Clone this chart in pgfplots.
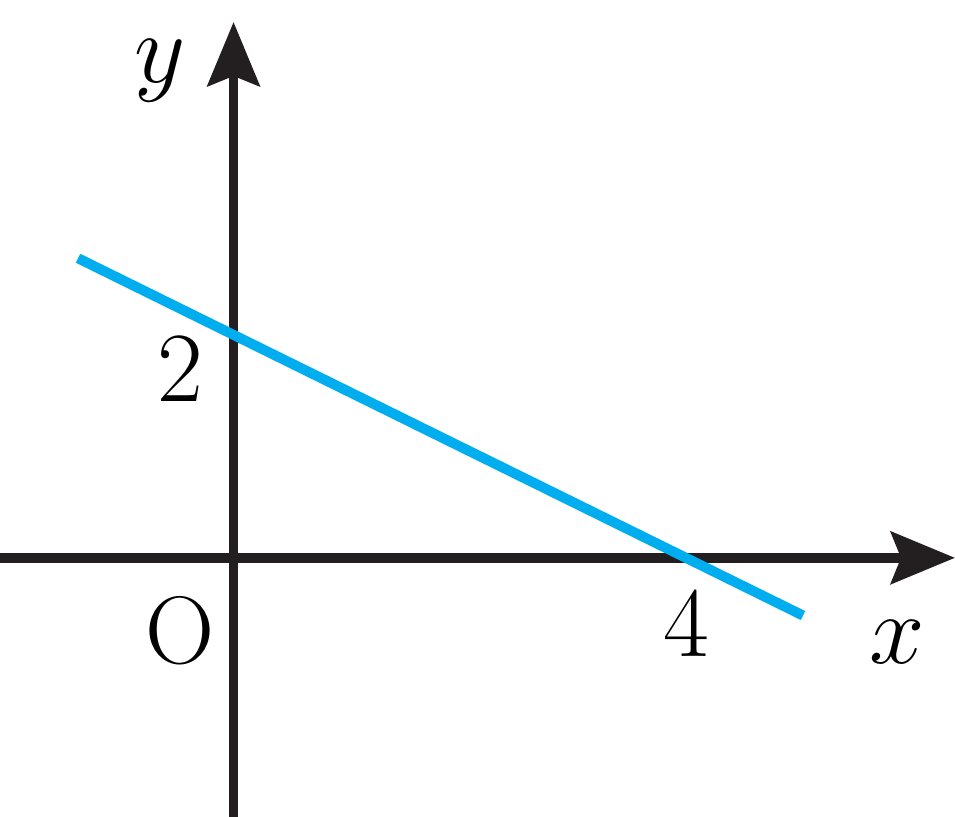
\documentclass[border=0pt]{standalone}
\usepackage{pgfplots}
\pgfplotsset{compat=1.18}
\usetikzlibrary{arrows.meta}
\definecolor{axisgray}{HTML}{231F20}
\definecolor{lineblue}{RGB}{0,174,239}
\begin{document}
\begin{tikzpicture}
\begin{axis}[
  x=28.28pt, y=27.875pt,
  xmin=-2.065, xmax=6.379,
  ymin=-2.323, ymax=4.807,
  axis lines=middle,
  xtick=\empty, ytick=\empty,
  axis line style={line width=2.4pt, color=axisgray, -{Stealth[length=16pt, width=13pt, inset=2.5pt]}},
  clip=false,
  font=\fontsize{24}{29}\selectfont,
]
\addplot[lineblue, line width=2.5pt] coordinates {(-1.375,2.6875) (5.035,-0.5175)};
\coordinate (bl) at (axis cs:-2.065,-2.323);
\coordinate (tr) at (axis cs:6.379,5.004);
\node[inner sep=0pt] at (axis cs:-0.650,4.368) {$y$};
\node[inner sep=0pt] at (axis cs:5.866,-0.758) {$x$};
\node[inner sep=0pt] at (axis cs:-0.473,1.691) {$2$};
\node[inner sep=0pt] at (axis cs:4.0,-0.601) {$4$};
\node[inner sep=0pt] at (axis cs:-0.473,-0.655) {O};
\end{axis}
\pgfresetboundingbox
\useasboundingbox (bl) rectangle (tr);
\end{tikzpicture}
\end{document}
